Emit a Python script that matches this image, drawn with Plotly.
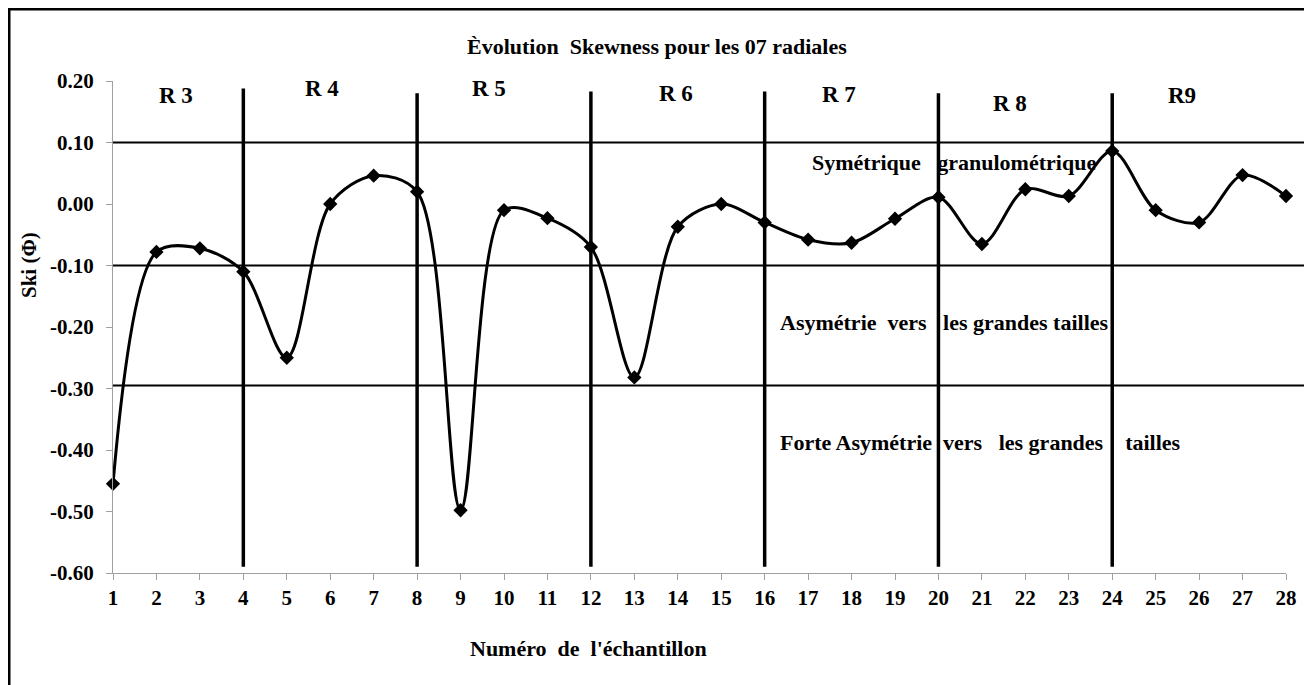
import plotly.graph_objects as go

# sample numbers and skewness values
samples = list(range(1, 29))
ski = [-0.455, -0.078, -0.072, -0.110, -0.250, 0.000, 0.046, 0.020,
       -0.498, -0.010, -0.023, -0.070, -0.282, -0.037, 0.000, -0.030,
       -0.058, -0.063, -0.024, 0.011, -0.065, 0.024, 0.013, 0.086,
       -0.010, -0.030, 0.047, 0.013]

ytick_vals = [0.20, 0.10, 0.00, -0.10, -0.20, -0.30, -0.40, -0.50, -0.60]
ytick_text = ["0.20", "0.10", "0.00", "-0.10", "-0.20", "-0.30", "-0.40", "-0.50", "-0.60"]

# class limits and radial separators
limits = [0.10, -0.10, -0.295]
separators = [4, 8, 12, 16, 20, 24]
sep_tops = [0.188, 0.180, 0.183, 0.183, 0.180, 0.180]
radial_names = ["R 3", "R 4", "R 5", "R 6", "R 7", "R 8", "R9"]
radial_x = [2.45, 5.8, 9.65, 13.95, 17.7, 21.65, 25.6]
radial_y = [0.177, 0.188, 0.188, 0.180, 0.178, 0.163, 0.177]

zones = ["Symétrique\u00a0\u00a0 granulométrique",
         "Asymétrie\u00a0 vers\u00a0\u00a0 les grandes tailles",
         "Forte Asymétrie\u00a0 vers\u00a0\u00a0 les grandes\u00a0\u00a0\u00a0 tailles"]
zone_x = [17.04, 16.31, 16.31]
zone_y = [0.068, -0.193, -0.388]

FONT = "Liberation Serif, Times New Roman, serif"

fig = go.Figure()
fig.add_trace(go.Scatter(x=samples, y=ski, mode="lines+markers", cliponaxis=False,
                         line=dict(color="black", width=3, shape="spline", smoothing=0.9),
                         marker=dict(symbol="diamond", size=11, color="black"),
                         showlegend=False))

shapes = []
for v in limits:
    shapes.append(dict(type="line", xref="paper", yref="y", x0=0, x1=1.018, y0=v, y1=v,
                       line=dict(color="black", width=2), layer="below"))
for s, top in zip(separators, sep_tops):
    shapes.append(dict(type="line", xref="x", yref="y", x0=s, x1=s, y0=-0.59, y1=top,
                       line=dict(color="black", width=3.5), layer="below"))
# outer frame
shapes.append(dict(type="rect", xref="paper", yref="paper", x0=(9 - 113) / 1173, x1=(1307 - 113) / 1173,
                   y0=(573 - 700) / 492, y1=(573 - 9) / 492, line=dict(color="black", width=3)))

annotations = []
for name, x, y in zip(radial_names, radial_x, radial_y):
    annotations.append(dict(x=x, y=y, xref="x", yref="y", text="<b>%s</b>" % name,
                            showarrow=False, font=dict(family=FONT, size=23, color="black")))
for t, x, y in zip(zones, zone_x, zone_y):
    annotations.append(dict(x=x, y=y, xref="x", yref="y", text="<b>%s</b>" % t, xanchor="left",
                            showarrow=False, font=dict(family=FONT, size=22, color="black")))
annotations.append(dict(x=(657 - 113) / 1173, y=(573 - 32) / 492, xref="paper", yref="paper",
                        text="<b>Èvolution\u00a0 Skewness pour les 07 radiales</b>", showarrow=False,
                        font=dict(family=FONT, size=22, color="black")))
annotations.append(dict(x=(588 - 113) / 1173, y=(573 - 663) / 492, xref="paper", yref="paper",
                        text="<b>Numéro\u00a0 de\u00a0 l'échantillon</b>", showarrow=False,
                        font=dict(family=FONT, size=22, color="black")))
annotations.append(dict(x=(29 - 113) / 1173, y=(573 - 265) / 492, xref="paper", yref="paper",
                        xanchor="center", yanchor="middle",
                        text="<b>Ski (Φ)</b>", textangle=-90, showarrow=False,
                        font=dict(family=FONT, size=21, color="black")))

# the page body adds an 8px margin, so the figure is made 8px smaller on each side used
fig.update_layout(
    width=1304, height=677,
    margin=dict(l=105, r=26, t=73, b=112),
    paper_bgcolor="white", plot_bgcolor="white",
    shapes=shapes, annotations=annotations,
    xaxis=dict(range=[1, 28], tickmode="array", tickvals=samples,
               ticktext=["<b>%d</b>" % s for s in samples],
               showgrid=False, zeroline=False, showline=True, linecolor="#a0a0a0", linewidth=1,
               ticks="outside", ticklen=6, tickcolor="#a0a0a0",
               tickfont=dict(family=FONT, size=21, color="black")),
    yaxis=dict(range=[-0.6, 0.2], tickmode="array", tickvals=ytick_vals,
               ticktext=["<b>%s</b>" % t for t in ytick_text],
               showgrid=False, zeroline=False, showline=True, linecolor="#a0a0a0", linewidth=1,
               ticks="outside", ticklen=6, tickcolor="#a0a0a0", ticklabelstandoff=8,
               tickfont=dict(family=FONT, size=21, color="black")),
)

fig.write_html("out.html")
